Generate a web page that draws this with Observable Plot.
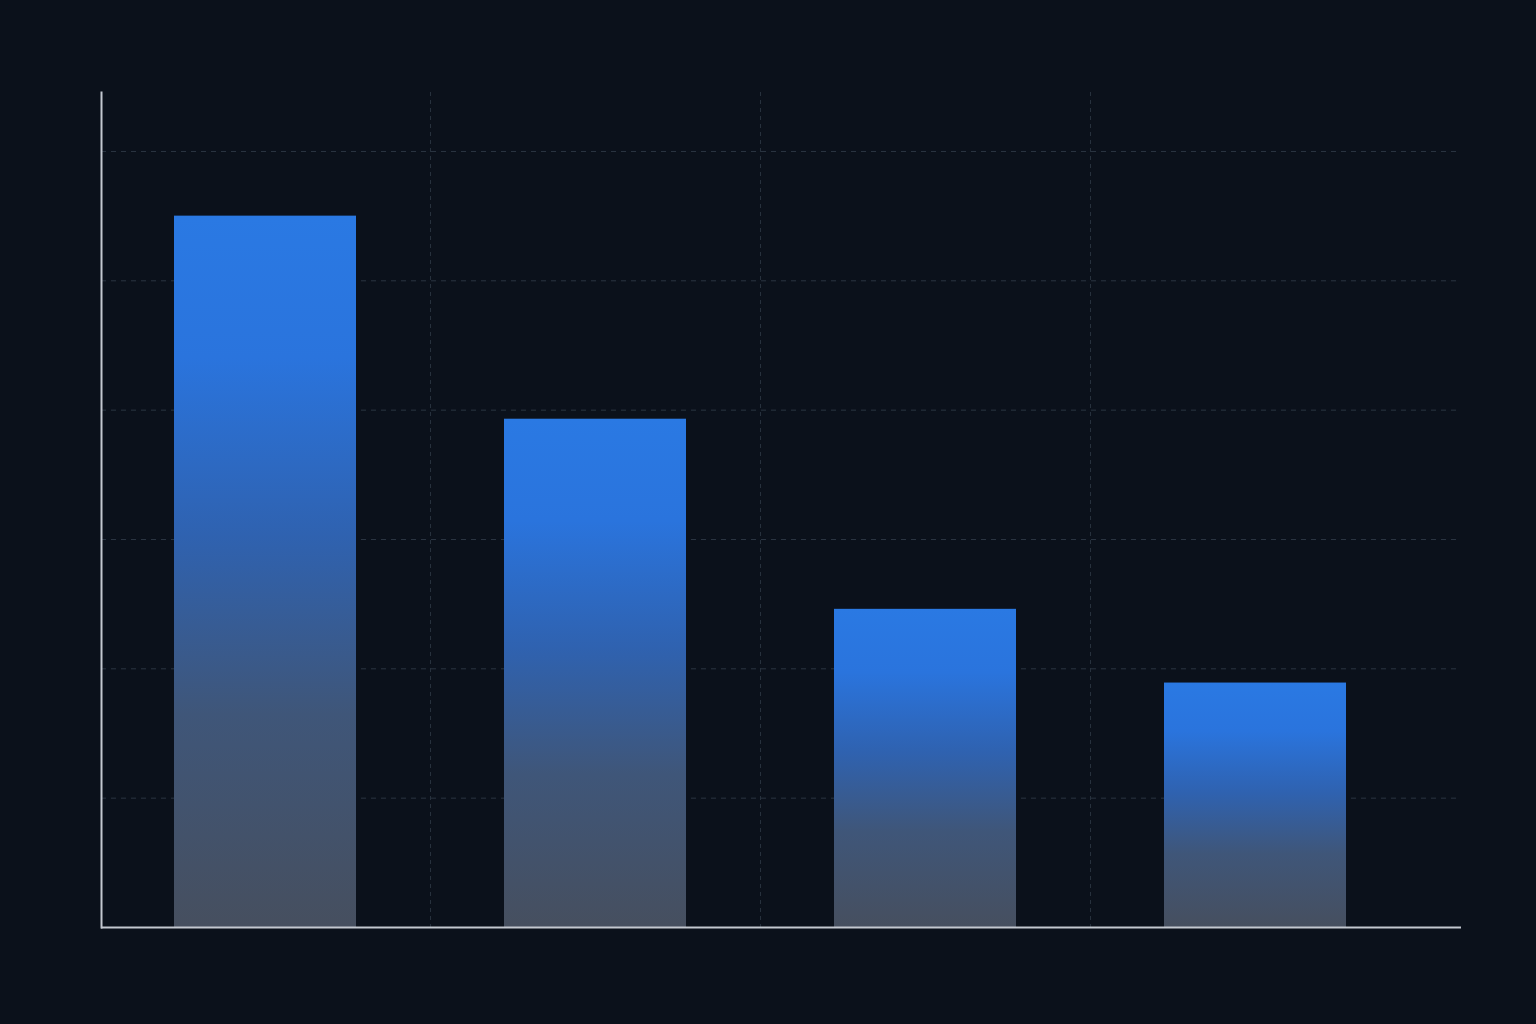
<!DOCTYPE html>
<html>
<head>
<meta charset="utf-8">
<script src="https://cdn.jsdelivr.net/npm/d3@7"></script>
<script src="https://cdn.jsdelivr.net/npm/@observablehq/plot@0.6"></script>
<style>
  html, body { margin: 0; padding: 0; background: #0b111b; }
  #chart { width: 1536px; height: 1024px; }
  svg { display: block; }
</style>
</head>
<body>
<div id="chart"></div>
<script>
const categories = ["A", "B", "C", "D"];
const values = [5.50, 3.93, 2.46, 1.89];
const yTicks = [1, 2, 3, 4, 5, 6];
const yMax = 6.456;

const data = categories.map((c, i) => ({category: c, value: values[i]}));
const bandRange = [100, 1420];
const step = (bandRange[1] - bandRange[0]) / categories.length;

const chart = Plot.plot({
  width: 1536,
  height: 1024,
  marginLeft: 101,
  marginRight: 75,
  marginTop: 92,
  marginBottom: 97,
  style: {background: "#0b111b", overflow: "visible"},
  x: {domain: categories, range: bandRange, paddingInner: 0.45, paddingOuter: 0.225, axis: null},
  y: {domain: [0, yMax], axis: null},
  marks: [
    Plot.ruleY(yTicks, {stroke: "#2b3542", strokeWidth: 1, strokeDasharray: "5,5"}),
    Plot.ruleX(categories.slice(1), {x: d => d, dx: -step / 2, stroke: "#27313d", strokeWidth: 1, strokeDasharray: "4,4"}),
    Plot.barY(data, {x: "category", y: "value", fill: "url(#barGrad)"}),
    Plot.ruleY([0], {stroke: "#c3c8d0", strokeWidth: 2}),
    Plot.frame({anchor: "left", stroke: "#c3c8d0", strokeWidth: 2})
  ]
});

const svg = d3.select(chart);
const defs = svg.insert("defs", ":first-child");
const grad = defs.append("linearGradient")
  .attr("id", "barGrad")
  .attr("x1", 0).attr("y1", 0).attr("x2", 0).attr("y2", 1);
[
  [0, "#2a79e3"],
  [0.2, "#2a74dd"],
  [0.45, "#2f62b0"],
  [0.7, "#3f5679"],
  [1, "#464f5f"]
].forEach(([o, c]) => grad.append("stop").attr("offset", o).attr("stop-color", c));

document.getElementById("chart").appendChild(chart);
</script>
</body>
</html>
